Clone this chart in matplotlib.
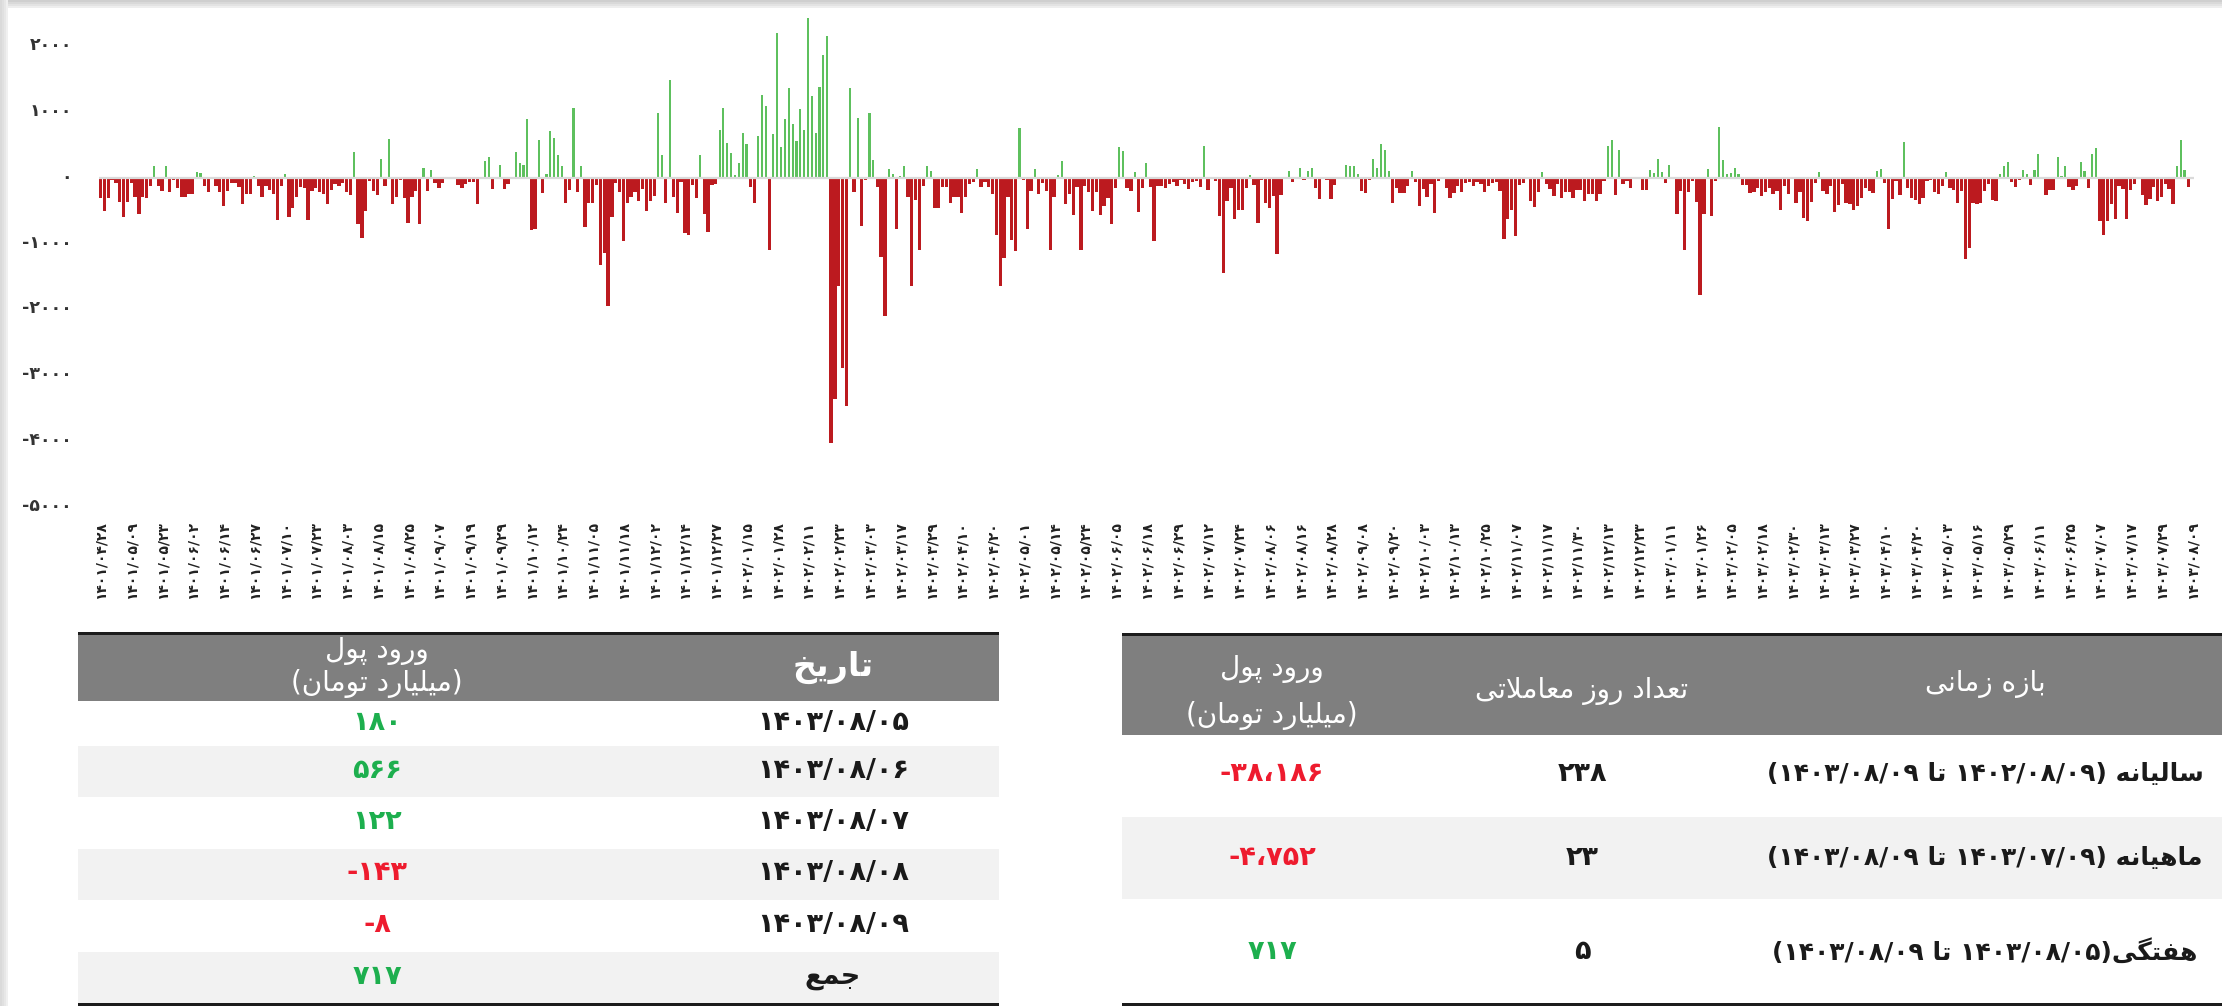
import re
import numpy as np
import matplotlib
matplotlib.use("Agg")
import matplotlib.pyplot as plt
from matplotlib.patches import Rectangle
from matplotlib.transforms import ScaledTranslation

plt.rcParams['font.family'] = ['DejaVu Sans']

# ---------------- data ----------------
tick_dates = [
    "1401/04/28", "1401/05/09", "1401/05/23", "1401/06/02", "1401/06/14", "1401/06/27",
    "1401/07/10", "1401/07/23", "1401/08/03", "1401/08/15", "1401/08/25", "1401/09/07",
    "1401/09/19", "1401/09/29", "1401/10/12", "1401/10/24", "1401/11/05", "1401/11/18",
    "1401/12/02", "1401/12/14", "1401/12/27", "1402/01/15", "1402/01/28",
    "1402/02/11", "1402/02/23", "1402/03/03", "1402/03/17", "1402/03/29", "1402/04/10",
    "1402/04/20", "1402/05/01", "1402/05/14", "1402/05/24", "1402/06/05", "1402/06/18",
    "1402/06/29", "1402/07/12", "1402/07/24", "1402/08/06", "1402/08/16", "1402/08/28",
    "1402/09/08", "1402/09/20", "1402/10/03", "1402/10/13", "1402/10/25",
    "1402/11/07", "1402/11/17", "1402/11/30", "1402/12/13", "1402/12/23", "1403/01/11",
    "1403/01/26", "1403/02/05", "1403/02/18", "1403/02/30", "1403/03/13", "1403/03/27",
    "1403/04/10", "1403/04/20", "1403/05/03", "1403/05/16", "1403/05/29", "1403/06/11",
    "1403/06/25", "1403/07/07", "1403/07/17", "1403/07/29", "1403/08/09",
]

flow_1401a = [
    -304, -506, -314, -40, -85, -365, -600, -365, -80, -290,
    -545, -290, -315, -125, 180, -120, -200, 170, -225, -35,
    -160, -300, -290, -250, -250, 85, 75, -120, -220, -20,
    -120, -220, -430, -200, -85, -85, -135, -405, -250, -250,
    25, -120, -290, -120, -190, -250, -640, -120, 50, -590,
    -455, -290, -140, -160, -640, -200, -160, -220, -250, -405,
    -180, -100, -120, -85, -210, -260, 395, -700, -920, -505,
    -50, -200, -260, 280, -120, 580, -405, -300, -35, -315,
    -685, -290, -200, -700, 140, -200, 115, -85, -150, -85,
    -20, -10,
]
flow_1401b = [
    -10, -115, -160, -90, -70, -60, -400,
    -20, 250, 320, -165, 10, 190, -165, -100, -20, 395,
    220, 190, 885, -795, -775, 565, -240, 55, 710, 600,
    340, 175, -380, -190, 1050, -215, 175, -745, -380, -380,
    -110, -1330, -1150, -1940, -590, -75, -210, -960, -380, -300,
    -215, -350, -170, -500, -350, -280, 975, 350, -380, 1480,
    -290, -540, -60, -845, -870, -110, -315, 350, -550, -820,
    -110, -100, 725, 1055, 520, 380, 35, 215, 675, 505,
    -135, -390, 630, 1255, 1090, -1100, 660, 2190, 470, 890,
    1365,
]
flow_1402a = [
    810, 555, 1040, 725, 2420, 1240, 685, 1380, 1860, 2150,
    -4020, -3365, -1640, -2885, -3465, 1355, -220, 910, -735, -30,
    985, 270, -135, -1200, -2100, 135, 55, -785, 20, 180,
    -300, -1640, -340, -1090, -125, 180, 105, -455, -455, -135,
    -135, -390, -300, -300, -530, -290, -100, -60, 130, -135,
    -60, -135, -250, -870, -1650, -1225, -300, -945, -1120, 760,
    -30, -785, -200, 130, -250, -85, -200, -1090, -290, 40,
    250, -405, -250, -570, -135, -1090, -125, -210, -505, -220,
    -570, -425, -315, -705, -160, 470, 405, -160, -200, 90,
    -525, -160, 215, -135, -960,
]
flow_1402b = [
    -130, -120, -150, -100, -60, -125, -40, -100, -170, -60,
    -50, -140, 480, -190, -20, -50, -580, -1440, -360, -150,
    -630, -490, -490, -150, 40, -110, -690, -40, -390, -465,
    -280, -1160, -265, -25, 100, -60, -20, 145, -30, 100,
    150, -160, -330, -20, -40, -330, -110, -25, -20, 190,
    180, 180, 60, -200, -240, -40, 280, 150, 505, 420,
    100, -380, -150, -240, -240, -120, 100, -60, -430, -170,
    -300, -100, -540, -50, -20, -150, -310, -240, -120, -220,
    -80, -60, -125, -60, -100, -220, -120, -80, -60, -200,
    -925,
]
flow_1403 = [
    -630, -490, -885, -110, -75, 15, -355, -440, -220, 90,
    -100, -165, -280, -100, -310, -220, -220, -310, -190, -190,
    -355, -255, -255, -355, -255, -50, 480, 565, -265, 415,
    -90, -50, -150, -20, -20, -190, -190, 110, 75, 290,
    90, -75, 190, -15, -555, -200, -1090, -220, -50, -370,
    -1785, -555, 125, -580, -50, 770, 270, 50, 65, 140,
    50, -110, -110, -240, -220, -150, -280, -220, -150, -255,
    -200, -490, -125, -255, 15, -380, -210, -605, -660, -370,
    -75, 85, -200, -255, -125, -515, -415, -100, -380, -405,
    -490, -430, -315, -150, -200, -240, 100, 135, -75, -785,
    -330, -50, -265, 540, -160, -315, -345, -405, -315, -50,
    -40, -220, -245, -125, 90, -150, -185, -380, -200, -1230,
    -1060, -390, -405, -380, -200, -90, -345, -355, 50, 175,
    240, -65, -140, -30, 110, 50, -115, 110, 365, -25,
    -265, -185, -185, 320, 25, 175, -135, -190, -125, 245,
    100, -150, 365, 445, -650, -865, -650, -405, -630, -125,
    -165, -630, -190, -100, 15, -265, -420, -330, -135, -355,
    -290, -100, -175, -405, 180, 566, 122, -143, -8,
]

y_ticks = [2000, 1000, 0, -1000, -2000, -3000, -4000, -5000]

weekly_dates = ["1403/08/05", "1403/08/06", "1403/08/07", "1403/08/08", "1403/08/09"]
weekly_flow = [180, 566, 122, -143, -8]

period_names = [
    "سالیانه (1402/08/09 تا 1403/08/09)",
    "ماهیانه (1403/07/09 تا 1403/08/09)",
    "هفتگی(1403/08/05 تا 1403/08/09)",
]
period_days = [238, 23, 5]
period_flow = [-38186, -4752, 717]

# ---------------- Persian text helpers ----------------
FA_DIG = str.maketrans("0123456789", "۰۱۲۳۴۵۶۷۸۹")

_FORMS = {
    'ا': ('\uFE8D', '\uFE8E', None, None),
    'آ': ('\uFE81', '\uFE82', None, None),
    'ب': ('\uFE8F', '\uFE90', '\uFE91', '\uFE92'),
    'پ': ('\uFB56', '\uFB57', '\uFB58', '\uFB59'),
    'ت': ('\uFE95', '\uFE96', '\uFE97', '\uFE98'),
    'ث': ('\uFE99', '\uFE9A', '\uFE9B', '\uFE9C'),
    'ج': ('\uFE9D', '\uFE9E', '\uFE9F', '\uFEA0'),
    'چ': ('\uFB7A', '\uFB7B', '\uFB7C', '\uFB7D'),
    'ح': ('\uFEA1', '\uFEA2', '\uFEA3', '\uFEA4'),
    'خ': ('\uFEA5', '\uFEA6', '\uFEA7', '\uFEA8'),
    'د': ('\uFEA9', '\uFEAA', None, None),
    'ذ': ('\uFEAB', '\uFEAC', None, None),
    'ر': ('\uFEAD', '\uFEAE', None, None),
    'ز': ('\uFEAF', '\uFEB0', None, None),
    'ژ': ('\uFB8A', '\uFB8B', None, None),
    'س': ('\uFEB1', '\uFEB2', '\uFEB3', '\uFEB4'),
    'ش': ('\uFEB5', '\uFEB6', '\uFEB7', '\uFEB8'),
    'ع': ('\uFEC9', '\uFECA', '\uFECB', '\uFECC'),
    'غ': ('\uFECD', '\uFECE', '\uFECF', '\uFED0'),
    'ف': ('\uFED1', '\uFED2', '\uFED3', '\uFED4'),
    'ق': ('\uFED5', '\uFED6', '\uFED7', '\uFED8'),
    'ک': ('\uFB8E', '\uFB8F', '\uFB90', '\uFB91'),
    'گ': ('\uFB92', '\uFB93', '\uFB94', '\uFB95'),
    'ل': ('\uFEDD', '\uFEDE', '\uFEDF', '\uFEE0'),
    'م': ('\uFEE1', '\uFEE2', '\uFEE3', '\uFEE4'),
    'ن': ('\uFEE5', '\uFEE6', '\uFEE7', '\uFEE8'),
    'و': ('\uFEED', '\uFEEE', None, None),
    'ه': ('\uFEE9', '\uFEEA', '\uFEEB', '\uFEEC'),
    'ی': ('\uFEEF', '\uFEF0', '\uFEF3', '\uFEF4'),
}


def _shape(s):
    toks, i = [], 0
    while i < len(s):
        if s[i] == 'ل' and i + 1 < len(s) and s[i + 1] == 'ا':
            toks.append('LA')
            i += 2
        else:
            toks.append(s[i])
            i += 1

    def is_ar(t):
        return t == 'LA' or t in _FORMS

    def dual(t):
        return t in _FORMS and _FORMS[t][2] is not None

    out = []
    for k, t in enumerate(toks):
        if not is_ar(t):
            out.append(t)
            continue
        prev = toks[k - 1] if k > 0 else None
        nxt = toks[k + 1] if k + 1 < len(toks) else None
        jp = prev is not None and dual(prev)
        if t == 'LA':
            out.append('\uFEFC' if jp else '\uFEFB')
            continue
        jn = nxt is not None and is_ar(nxt) and dual(t)
        f = _FORMS[t]
        if jp and jn:
            out.append(f[3])
        elif jp:
            out.append(f[1])
        elif jn:
            out.append(f[2])
        else:
            out.append(f[0])
    return ''.join(out)


_MIRROR = {'(': ')', ')': '('}


def fa(s):
    shaped = _shape(s.translate(FA_DIG))
    runs = re.findall(r'[۰-۹][۰-۹/،]*[۰-۹]|[۰-۹]|[^۰-۹]+', shaped)
    out = []
    for r in reversed(runs):
        if r[0] in '۰۱۲۳۴۵۶۷۸۹':
            out.append(r)
        else:
            out.append(''.join(_MIRROR.get(c, c) for c in reversed(r)))
    return ''.join(out)


def fnum(v):
    return f"{v:,}".replace(',', '،').translate(FA_DIG)


# ---------------- figure ----------------
W, H = 2222, 1006
fig = plt.figure(figsize=(W / 100, H / 100), dpi=100)

bg = fig.add_axes([0, 0, 1, 1], zorder=0)
bg.set_xlim(0, W)
bg.set_ylim(H, 0)
bg.axis('off')

# card shadow
for k, c in enumerate(['#cfcfcf', '#d9d9d9', '#e3e3e3', '#eeeeee']):
    bg.add_patch(Rectangle((0, k * 2), W, 2, color=c, lw=0))
for k, c in enumerate(['#dadada', '#e0e0e0', '#e7e7e7', '#f0f0f0']):
    bg.add_patch(Rectangle((k * 2, 0), 2, H, color=c, lw=0))

# ---------------- bar chart ----------------
flow = np.array(flow_1401a + flow_1401b + flow_1402a + flow_1402b + flow_1403)
n = len(flow)
x = np.arange(n)

x0_px, x1_px = 98.6, 2194.1
y_top_px, y_bot_px = 12.9, 507.2
ax = fig.add_axes([x0_px / W, 1 - y_bot_px / H, (x1_px - x0_px) / W, (y_bot_px - y_top_px) / H], zorder=2)
ax.patch.set_alpha(0)

neg = flow < 0
ax.bar(x[neg], flow[neg], width=0.86, color='#BC1A1F', lw=0, zorder=2)
ax.bar(x[~neg], flow[~neg], width=0.55, color='#5EC05E', lw=0, zorder=2)
ax.axhline(0, color='#dadada', lw=1.6, zorder=3)

ax.set_xlim(-0.5, n - 0.5)
ax.set_ylim(-5000, 2500)
for s in ax.spines.values():
    s.set_visible(False)

ax.set_yticks(y_ticks)
ax.set_yticklabels([str(v).translate(FA_DIG) for v in y_ticks],
                   fontsize=12.5, fontweight='bold', color='#333333')
ax.tick_params(axis='y', length=0, pad=19)
for lab in ax.get_yticklabels():
    lab.set_transform(lab.get_transform() + ScaledTranslation(0, 3 / 100, fig.dpi_scale_trans))

tick_pos = x[::8]
ax.set_xticks(tick_pos)
ax.set_xticklabels([d.translate(FA_DIG) for d in tick_dates], rotation=90,
                   fontsize=10, fontweight='bold', color='#222222')
ax.tick_params(axis='x', length=0, pad=10)

# ---------------- tables ----------------
HEAD = '#7f7f7f'
ALT = '#f2f2f2'
LINE = '#1c1c1c'
GREEN = '#1DAF4E'
RED = '#EE1B2E'
TXT = '#1a1a1a'
ROWFS = 19.5
NAMEFS = 18
HEADFS = 20


def colr(v):
    return GREEN if v >= 0 else RED


# left table: daily flows of the last week
LX0, LX1 = 78, 999
bg.add_patch(Rectangle((LX0, 631.5), LX1 - LX0, 3, color=LINE, lw=0))
bg.add_patch(Rectangle((LX0, 634.5), LX1 - LX0, 66.5, color=HEAD, lw=0))
row_edges_l = [701, 746, 797, 849, 900, 952, 1003]
for r in range(6):
    bg.add_patch(Rectangle((LX0, row_edges_l[r]), LX1 - LX0, row_edges_l[r + 1] - row_edges_l[r],
                           color=('white' if r % 2 == 0 else ALT), lw=0))
bg.add_patch(Rectangle((LX0, 1003), LX1 - LX0, 3, color=LINE, lw=0))

c_date, c_val = 833, 377
bg.text(c_date, 667, fa("تاریخ"), ha='center', va='center', fontsize=24, fontweight='bold', color='white')
bg.text(c_val, 651, fa("ورود پول"), ha='center', va='center', fontsize=HEADFS, color='white')
bg.text(c_val, 684, fa("(میلیارد تومان)"), ha='center', va='center', fontsize=HEADFS, color='white')

rows_l = [(fa(d), w) for d, w in zip(weekly_dates, weekly_flow)] + [(fa("جمع"), sum(weekly_flow))]
for r, (lab, v) in enumerate(rows_l):
    yc = (row_edges_l[r] + row_edges_l[r + 1]) / 2 - 1
    bg.text(c_date, yc, lab, ha='center', va='center', fontsize=ROWFS, fontweight='bold', color=TXT)
    bg.text(c_val, yc, fnum(v), ha='center', va='center', fontsize=ROWFS, fontweight='bold', color=colr(v))

# right table: summary by period
RX0, RX1 = 1122, 2222
bg.add_patch(Rectangle((RX0, 633), RX1 - RX0, 3, color=LINE, lw=0))
bg.add_patch(Rectangle((RX0, 636), RX1 - RX0, 99, color=HEAD, lw=0))
row_edges_r = [735, 817, 899, 1003]
for r in range(3):
    bg.add_patch(Rectangle((RX0, row_edges_r[r]), RX1 - RX0, row_edges_r[r + 1] - row_edges_r[r],
                           color=('white' if r % 2 == 0 else ALT), lw=0))
bg.add_patch(Rectangle((RX0, 1003), RX1 - RX0, 3, color=LINE, lw=0))

c_flow, c_days, c_name = 1272, 1582, 1985
bg.text(c_flow, 669, fa("ورود پول"), ha='center', va='center', fontsize=HEADFS, color='white')
bg.text(c_flow, 715, fa("(میلیارد تومان)"), ha='center', va='center', fontsize=HEADFS, color='white')
bg.text(c_days, 691, fa("تعداد روز معاملاتی"), ha='center', va='center', fontsize=HEADFS, color='white')
bg.text(c_name, 684, fa("بازه زمانی"), ha='center', va='center', fontsize=HEADFS, color='white')

row_y_r = [774, 858, 952]
for r in range(3):
    bg.text(c_name, row_y_r[r], fa(period_names[r]), ha='center', va='center', fontsize=NAMEFS,
            fontweight='bold', color=TXT)
    bg.text(c_days, row_y_r[r], fnum(period_days[r]), ha='center', va='center', fontsize=ROWFS,
            fontweight='bold', color=TXT)
    bg.text(c_flow, row_y_r[r], fnum(period_flow[r]), ha='center', va='center', fontsize=ROWFS,
            fontweight='bold', color=colr(period_flow[r]))

fig.savefig("out.png", dpi=100, facecolor='white')
